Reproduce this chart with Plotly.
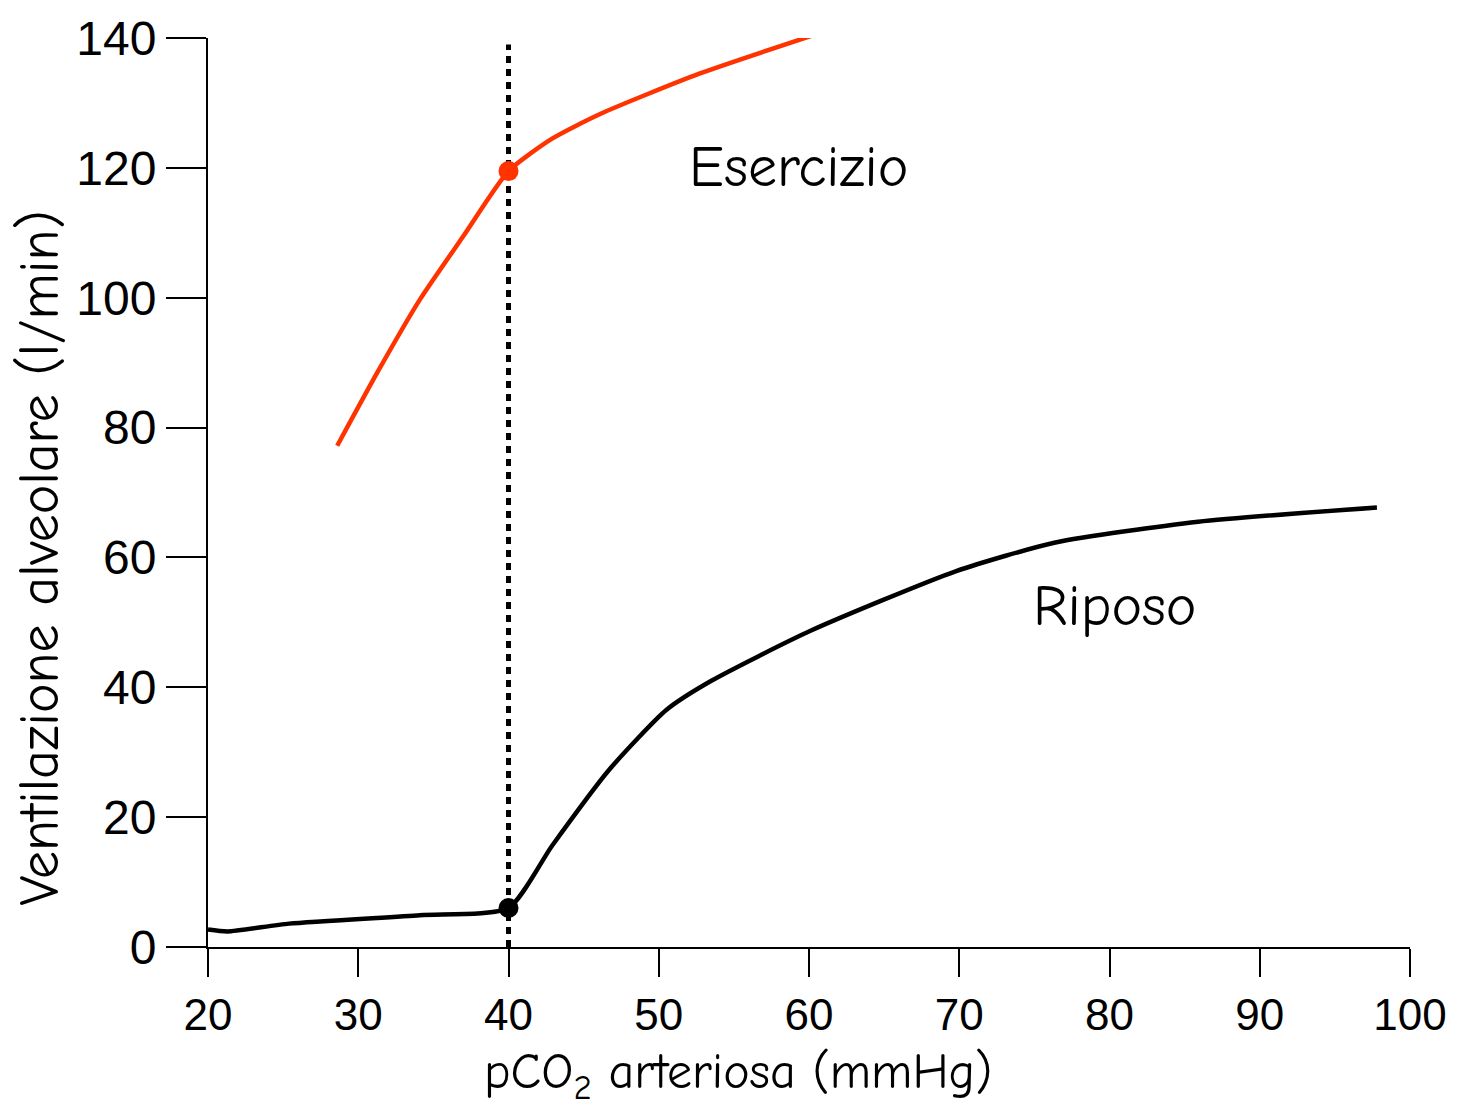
import plotly.graph_objects as go

# Data
riposo_x = [20.0, 21.3, 25.4, 34.1, 40.0, 42.9, 46.7, 50.5, 53.5, 60.1, 69.8, 76.4, 85.9, 97.8]
riposo_y = [2.7, 2.4, 3.6, 4.9, 6.0, 15.6, 27.3, 36.5, 41.0, 48.7, 57.9, 62.3, 65.5, 67.7]
esercizio_x = [28.6, 31.3, 34.1, 37.0, 40.0, 42.9, 46.1, 52.7, 61.3]
esercizio_y = [77.2, 88.6, 99.7, 109.5, 119.5, 124.5, 128.3, 134.5, 141.2]
point_x = [40, 40]
point_y = [6.0, 119.5]
ref_line_x = [40, 40]
ref_line_y = [0, 139]
x_ticks = [20, 30, 40, 50, 60, 70, 80, 90, 100]
y_ticks = [0, 20, 40, 60, 80, 100, 120, 140]

RED = "#FF3300"
HAND = "Comic Sans MS, Comic Neue, DejaVu Sans, sans-serif"
TICKF = "Liberation Sans, Arial, sans-serif"

fig = go.Figure()
fig.add_trace(go.Scatter(x=ref_line_x, y=ref_line_y, mode="lines",
                         line=dict(color="black", width=5, dash="7px,6px"),
                         cliponaxis=False, showlegend=False, hoverinfo="skip"))
fig.add_trace(go.Scatter(x=riposo_x, y=riposo_y, mode="lines",
                         line=dict(color="black", width=4.5, shape="spline", smoothing=0.6),
                         cliponaxis=False, showlegend=False, name="Riposo"))
fig.add_trace(go.Scatter(x=esercizio_x, y=esercizio_y, mode="lines",
                         line=dict(color=RED, width=4.5, shape="spline", smoothing=0.6),
                         cliponaxis=False, showlegend=False, name="Esercizio"))
fig.add_trace(go.Scatter(x=point_x, y=point_y, mode="markers",
                         marker=dict(color=["black", RED], size=20),
                         cliponaxis=False, showlegend=False))

fig.add_annotation(x=59.3, y=120, text="Esercizio", showarrow=False,
                   xanchor="center", yanchor="middle",
                   font=dict(family=HAND, size=58, color="black"))
fig.add_annotation(x=80.3, y=52.5, text="Riposo", showarrow=False,
                   xanchor="center", yanchor="middle",
                   font=dict(family=HAND, size=58, color="black"))
fig.add_annotation(xref="paper", yref="paper", x=0.441, y=-0.141,
                   xanchor="center", yanchor="middle",
                   text="pCO<sub>2</sub> arteriosa (mmHg)", showarrow=False,
                   font=dict(family=HAND, size=50, color="black"))
fig.add_annotation(xref="paper", yref="paper", x=-0.14, y=0.428, textangle=-90,
                   xanchor="center", yanchor="middle",
                   text="Ventilazione alveolare (l/min)", showarrow=False,
                   font=dict(family=HAND, size=56, color="black"))

fig.update_layout(
    width=1470, height=1106,
    margin=dict(l=208, r=60, t=27, b=159),
    plot_bgcolor="white", paper_bgcolor="white",
    xaxis=dict(range=[20, 100], tickvals=x_ticks, showgrid=False, zeroline=False,
               showline=True, linecolor="black", linewidth=2,
               ticks="outside", ticklen=28, tickwidth=2, tickcolor="black",
               tickfont=dict(family=TICKF, size=44, color="black")),
    yaxis=dict(range=[0, 140], tickvals=y_ticks, showgrid=False, zeroline=False,
               showline=True, linecolor="black", linewidth=2,
               ticks="outside", ticklen=40, tickwidth=2, tickcolor="black",
               tickfont=dict(family=TICKF, size=48, color="black")),
)

fig.write_html("out.html")
